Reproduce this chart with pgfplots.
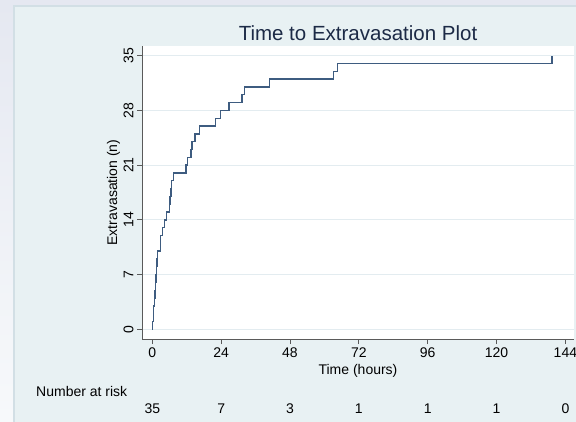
\documentclass[border=0pt]{standalone}
\usepackage{fontspec}
\setmainfont{Liberation Sans}
\usepackage{pgfplots}
\pgfplotsset{compat=1.18}
\definecolor{outertop}{HTML}{E5E8F1}
\definecolor{outerbot}{HTML}{F7F9FB}
\definecolor{graphbg}{HTML}{E8F1F3}
\definecolor{boxline}{HTML}{D2DFE5}
\definecolor{gridc}{HTML}{E3ECF0}
\definecolor{linec}{RGB}{62,92,128}
\definecolor{axisc}{HTML}{5A5A5A}
\definecolor{titlec}{HTML}{1C2A46}
\begin{document}
\begin{tikzpicture}[x=1pt,y=1pt]
\useasboundingbox (0,0) rectangle (576,421);
\shade[top color=outertop,bottom color=outerbot] (0,0) rectangle (576,421);
\fill[graphbg] (14,-10) rectangle (600,415);
\draw[boxline,line width=1.5pt] (14,-10) -- (14,415) -- (600,415);
\begin{axis}[
  at={(142pt,82pt)}, anchor=south west,
  scale only axis, width=432pt, height=293pt,
  xmin=-3.59, xmax=147, ymin=-1.24, ymax=36.24,
  axis background/.style={fill=white},
  axis x line*=bottom, axis y line*=left,
  axis line style={axisc, line width=0.8pt, -},
  xtick={0,24,48,72,96,120,144},
  ytick={0,7,14,21,28,35},
  tick align=outside, major tick length=5pt,
  tick style={axisc, line width=0.8pt},
  ymajorgrids, grid style={gridc, line width=0.8pt},
  ticklabel style={font=\fontsize{14}{16}\selectfont},
  /pgf/number format/assume math mode=true,
  yticklabel style={rotate=90, anchor=south},
  xlabel={Time (hours)},
  xlabel style={at={(axis description cs:0.5,0)}, anchor=base, yshift=-35pt, font=\fontsize{14}{16}\selectfont},
  ylabel={Extravasation (n)},
  ylabel style={at={(axis description cs:0,0.5)}, anchor=base, yshift=25pt, font=\fontsize{14}{16}\selectfont},
  clip=false,
]
\addplot[const plot, linec, line width=1.4pt] coordinates {
(0,0) (0.15,1) (0.35,2) (0.5,3) (0.7,4) (0.9,5) (1.1,6) (1.3,7) (1.5,8) (1.7,9) (1.9,10)
(2.9,12) (3.6,13) (4.2,14) (4.9,15) (6.0,16) (6.2,17) (6.5,18) (6.7,19) (7.4,20)
(11.7,21) (12.2,22) (13.5,23) (13.9,24) (14.9,25) (16.5,26) (22.0,27) (23.7,28)
(26.7,29) (31.2,30) (32.1,31) (40.8,32) (63.1,33) (64.5,34) (139.3,35) (139.3,35)
};
\node[anchor=base, font=\fontsize{14}{16}\selectfont] at ([yshift=-74pt]axis cs:0,-1.24) {35};
\node[anchor=base, font=\fontsize{14}{16}\selectfont] at ([yshift=-74pt]axis cs:24,-1.24) {7};
\node[anchor=base, font=\fontsize{14}{16}\selectfont] at ([yshift=-74pt]axis cs:48,-1.24) {3};
\node[anchor=base, font=\fontsize{14}{16}\selectfont] at ([yshift=-74pt]axis cs:72,-1.24) {1};
\node[anchor=base, font=\fontsize{14}{16}\selectfont] at ([yshift=-74pt]axis cs:96,-1.24) {1};
\node[anchor=base, font=\fontsize{14}{16}\selectfont] at ([yshift=-74pt]axis cs:120,-1.24) {1};
\node[anchor=base, font=\fontsize{14}{16}\selectfont] at ([yshift=-74pt]axis cs:144,-1.24) {0};
\end{axis}
\node[anchor=base west, font=\fontsize{14}{16}\selectfont, inner sep=0pt] at (36,25) {Number at risk};
\node[anchor=base, font=\fontsize{20.5}{24}\selectfont, text=titlec] at (358,380) {Time to Extravasation Plot};
\end{tikzpicture}
\end{document}
